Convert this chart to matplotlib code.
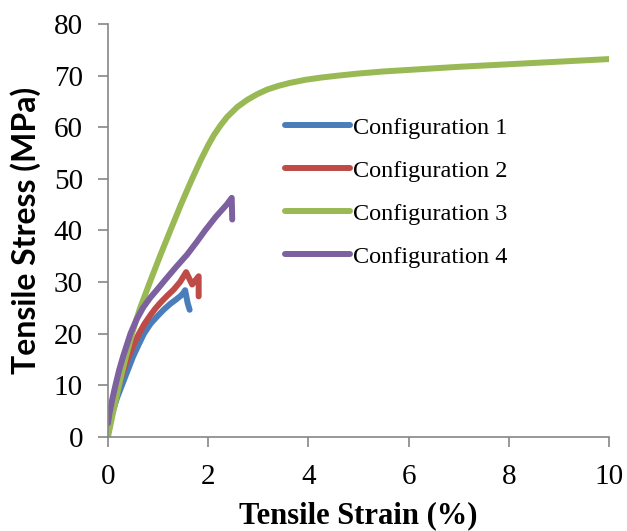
import matplotlib
matplotlib.use("Agg")
import matplotlib.pyplot as plt

# strain (%) / stress (MPa)
c1_strain = [0.0, 0.03, 0.10, 0.18, 0.28, 0.40, 0.50, 0.62, 0.72, 0.85, 1.00, 1.12, 1.25, 1.36, 1.45,
             1.50, 1.54, 1.59, 1.63]
c1_stress = [0.5, 2.5, 5.0, 7.5, 10.0, 13.0, 15.5, 18.0, 20.0, 21.9, 23.5, 24.7, 25.8, 26.6, 27.3,
             27.8, 28.4, 25.9, 24.6]

c2_strain = [0.0, 0.03, 0.10, 0.16, 0.22, 0.30, 0.40, 0.51, 0.62, 0.73, 0.85, 0.95, 1.05, 1.18, 1.31,
             1.44, 1.56, 1.68, 1.81, 1.81]
c2_stress = [0.5, 2.5, 5.5, 8.0, 10.0, 12.5, 15.3, 17.8, 20.0, 21.9, 23.6, 24.9, 26.0, 27.3, 28.5,
             30.0, 31.9, 29.5, 31.1, 27.2]

c3_strain = [0.0, 0.10, 0.22, 0.35, 0.49, 0.64, 0.85, 1.05, 1.25, 1.46, 1.68, 1.85, 2.00, 2.11,
             2.25, 2.38, 2.58, 2.78, 2.98, 3.18, 3.40, 3.64, 3.95, 4.24, 4.60, 5.0, 5.5, 6.0, 7.0,
             8.0, 9.0, 10.0]
c3_stress = [0.0, 4.6, 10.0, 15.2, 20.3, 24.9, 30.3, 35.3, 40.1, 45.1, 50.0, 53.6, 56.5, 58.4,
             60.4, 62.0, 63.9, 65.3, 66.4, 67.3, 68.0, 68.6, 69.2, 69.6, 70.0, 70.4, 70.8, 71.1, 71.7,
             72.2, 72.7, 73.2]

c4_strain = [0.0, 0.03, 0.08, 0.15, 0.22, 0.30, 0.38, 0.45, 0.57, 0.70, 0.84, 0.98, 1.15, 1.36, 1.58,
             1.76, 1.94, 2.15, 2.37, 2.47, 2.48]
c4_stress = [2.6, 4.5, 7.0, 10.0, 12.8, 15.5, 17.9, 20.0, 22.7, 25.0, 26.9, 28.5, 30.5, 32.9, 35.3,
             37.6, 40.0, 42.6, 45.0, 46.3, 42.1]

labels = ["Configuration 1", "Configuration 2", "Configuration 3", "Configuration 4"]
colors = ["#4A7EBB", "#BE4B48", "#98B954", "#7D60A0"]

plt.rcParams["font.family"] = "Liberation Serif"

fig = plt.figure(figsize=(6.27, 5.31), dpi=100)
ax = fig.add_axes([0.1722, 0.1776, 0.7991, 0.7772])

series = [(c1_strain, c1_stress), (c2_strain, c2_stress), (c3_strain, c3_stress), (c4_strain, c4_stress)]
for (xs, ys), lab, col in zip(series, labels, colors):
    ax.plot(xs, ys, color=col, lw=4.3, label=lab, solid_capstyle="round", solid_joinstyle="round")

ax.set_xlim(0, 10)
ax.set_ylim(0, 80)
ax.set_xticks(range(0, 11, 2))
ax.set_yticks(range(0, 81, 10))
ax.tick_params(labelsize=21, direction="out", length=7, width=1.2, color="#868686")
ax.tick_params(axis="y", pad=11)
ax.tick_params(axis="x", pad=13)

for side in ("top", "right"):
    ax.spines[side].set_visible(False)
for side in ("left", "bottom"):
    ax.spines[side].set_color("#868686")
    ax.spines[side].set_linewidth(1.2)

ax.set_xlabel("Tensile Strain (%)", fontsize=22, fontweight="bold", labelpad=8)
ax.set_ylabel("Tensile Stress (MPa)", fontsize=23, fontweight="bold", family="Lato", labelpad=9)

leg = ax.legend(loc="upper left", bbox_to_anchor=(0.353, 0.775), frameon=False, fontsize=17.5,
                handlelength=2.7, handletextpad=0.1, labelspacing=0.86, borderpad=0, borderaxespad=0)

fig.savefig("out.png", dpi=100)
